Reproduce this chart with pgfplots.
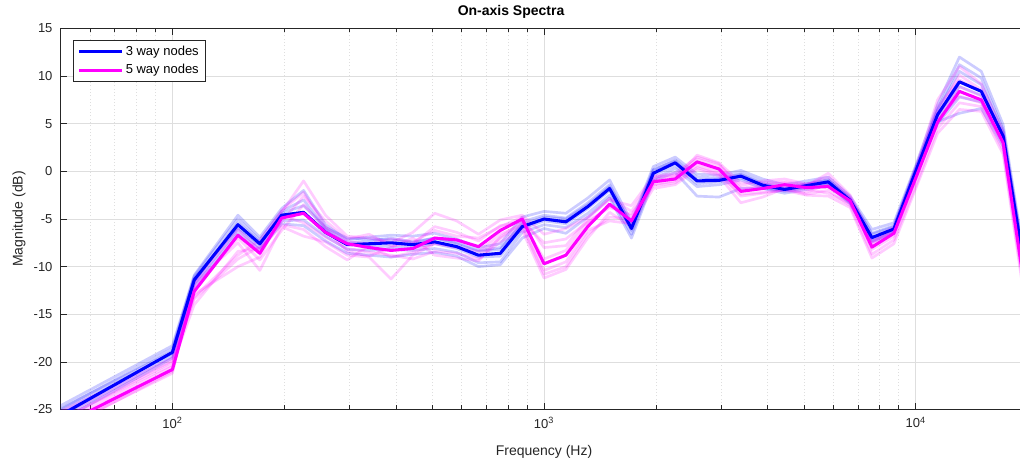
\documentclass[border=0pt]{standalone}
\usepackage{fontspec}
\setmainfont{Liberation Sans}
\usepackage{pgfplots}
\usepackage{pgfplotstable}
\pgfplotsset{compat=1.18}
\definecolor{axgray}{RGB}{38,38,38}
\definecolor{gridgray}{RGB}{222,222,222}
\definecolor{mainblue}{RGB}{0,0,255}
\definecolor{mainmag}{RGB}{255,0,255}

\pgfplotstableread{
f B b1 b2 b3 b4 b5 b6 M m1 m2 m3 m4 m5 m6 m7
50 -25.6 -24.6 -25.0 -25.3 -25.9 -26.2 -24.9 -26.7 -25.6 -26.0 -27.2 -26.4 -25.2 -27.0 -26.1
100 -19.0 -18.3 -18.6 -19.1 -19.4 -19.6 -18.9 -20.8 -19.9 -20.3 -21.0 -20.5 -19.6 -21.2 -20.0
114.5 -11.4 -10.9 -11.0 -11.8 -11.6 -12.1 -11.2 -12.6 -13.4 -14.0 -11.8 -12.9 -13.2 -11.6 -12.2
150.1 -5.6 -4.6 -5.0 -6.1 -5.4 -6.5 -5.9 -6.7 -9.2 -8.4 -7.5 -10.0 -8.8 -6.1 -7.0
171.9 -7.6 -6.9 -7.2 -8.0 -7.4 -8.2 -7.7 -8.6 -7.9 -8.1 -10.4 -9.0 -7.2 -8.3 -9.3
196.8 -4.6 -3.9 -4.2 -5.2 -4.8 -5.5 -4.4 -4.9 -4.3 -5.3 -5.8 -4.6 -4.1 -5.6 -6.2
225.4 -4.3 -2.0 -3.0 -5.1 -4.4 -5.7 -3.6 -4.4 -1.0 -2.6 -6.8 -5.4 -2.2 -6.1 -3.5
258.1 -6.4 -5.6 -6.0 -6.8 -6.2 -7.3 -5.9 -6.4 -4.6 -5.2 -7.4 -6.9 -5.8 -7.9 -6.0
295.5 -7.7 -7.2 -7.5 -8.2 -7.6 -8.6 -7.0 -7.6 -6.8 -7.1 -8.8 -8.1 -7.4 -9.3 -8.4
338.4 -7.6 -6.9 -7.3 -8.3 -7.8 -8.8 -7.1 -8.0 -7.0 -6.6 -9.0 -8.5 -7.6 -7.8 -8.9
387.5 -7.5 -6.7 -7.0 -8.2 -7.9 -9.0 -7.2 -8.3 -7.5 -7.8 -11.3 -8.8 -7.1 -9.0 -8.0
443.7 -7.7 -6.8 -7.4 -8.3 -8.0 -8.7 -7.5 -8.1 -6.4 -7.6 -8.8 -9.2 -7.4 -8.5 -7.0
508.1 -7.4 -6.5 -7.0 -8.1 -7.6 -8.5 -7.0 -7.0 -4.4 -5.8 -7.6 -8.4 -6.2 -7.5 -8.8
581.8 -7.9 -7.1 -7.6 -8.5 -8.1 -8.9 -7.5 -7.2 -5.2 -6.4 -8.0 -8.6 -6.8 -7.9 -9.1
666.2 -8.8 -8.0 -8.4 -9.6 -9.0 -10.0 -8.3 -7.9 -6.6 -7.3 -8.4 -9.2 -7.0 -8.8 -9.4
762.8 -8.6 -7.6 -8.2 -9.5 -8.9 -9.8 -8.0 -6.2 -5.1 -5.7 -6.6 -7.4 -5.8 -7.0 -6.9
873.5 -5.8 -4.8 -5.3 -6.4 -6.0 -7.0 -5.6 -5.0 -4.6 -5.3 -5.6 -6.2 -4.8 -5.8 -5.3
1000 -5.0 -4.2 -4.6 -5.6 -5.2 -6.0 -4.8 -9.7 -6.6 -7.5 -10.4 -11.2 -8.0 -10.8 -9.2
1145 -5.3 -4.4 -4.9 -5.9 -5.5 -6.5 -5.0 -8.8 -6.0 -7.1 -9.5 -10.3 -7.8 -10.0 -8.3
1311 -3.7 -2.8 -3.3 -4.4 -3.9 -4.8 -3.5 -5.8 -4.8 -5.3 -6.2 -7.0 -5.0 -6.6 -5.4
1501 -1.8 -0.9 -1.4 -2.5 -2.0 -2.8 -1.6 -3.45 -3.0 -3.8 -5.2 -4.3 -2.8 -4.8 -3.6
1719 -6.0 -5.3 -5.7 -6.6 -6.2 -7.0 -5.5 -5.2 -3.6 -4.5 -5.5 -5.8 -4.2 -5.0 -4.7
1968 -0.2 0.5 0.1 -0.8 -0.4 -1.0 0.2 -1.1 -0.5 -1.4 -1.8 -0.8 -0.6 -1.5 -1.0
2254 0.9 1.5 1.2 0.3 0.6 -0.1 1.1 -0.8 -0.2 -1.0 -1.4 -0.5 -0.4 -1.2 -0.7
2581 -1.0 -0.3 -0.6 -1.6 -1.3 -2.6 -0.9 1.0 1.5 0.6 0.2 1.3 0.9 0.4 1.7
2955 -0.95 -0.4 -0.7 -1.4 -1.1 -2.7 -0.8 0.25 0.8 -0.2 -0.5 0.6 0.1 -0.3 0.9
3384 -0.5 0.1 -0.2 -0.9 -0.7 -1.8 -0.3 -2.1 -1.8 -2.6 -3.3 -1.5 -2.0 -2.4 -1.2
3875 -1.45 -0.8 -1.1 -1.8 -1.6 -1.8 -1.3 -1.8 -1.4 -2.3 -2.7 -1.0 -1.6 -2.2 -1.2
4437 -1.9 -1.4 -1.7 -2.3 -2.1 -2.0 -1.8 -1.4 -1.2 -1.9 -1.8 -0.8 -1.6 -2.0 -1.1
5081 -1.5 -1.0 -1.3 -1.9 -1.7 -1.6 -1.3 -1.7 -1.5 -2.2 -2.4 -1.3 -1.9 -2.5 -1.4
5818 -1.1 -0.6 -0.9 -1.5 -1.3 -1.4 -0.9 -1.6 -0.2 -1.3 -2.0 -1.1 -2.3 -2.6 -0.6
6662 -3.05 -2.6 -2.9 -3.4 -3.2 -3.3 -2.8 -3.1 -2.5 -3.0 -3.6 -2.9 -3.4 -3.8 -2.7
7628 -6.95 -6.1 -6.6 -7.4 -7.1 -7.3 -6.5 -7.95 -7.0 -7.6 -8.7 -8.2 -7.5 -9.1 -7.3
8735 -6.05 -5.4 -5.8 -6.5 -6.2 -6.4 -5.7 -6.5 -5.9 -6.3 -7.2 -6.8 -6.1 -7.6 -6.0
10000 0.0 0.6 0.3 -0.5 -0.2 -0.3 0.4 -0.7 0.3 -0.4 -1.5 -0.9 -0.2 -1.8 0.1
11450 5.95 7.0 6.5 5.0 5.6 5.2 6.4 5.15 7.5 6.2 4.5 5.5 6.8 4.0 5.9
13111 9.4 12.0 11.2 7.8 8.9 6.1 10.5 8.4 11.0 10.1 7.2 7.9 9.6 6.5 8.9
15013 8.4 10.5 9.8 7.3 8.0 6.6 9.1 7.5 9.2 8.6 6.8 7.2 8.4 6.3 7.9
17190 3.7 4.9 4.4 3.0 3.5 2.6 4.1 3.0 4.2 3.6 2.2 2.8 3.8 1.8 3.3
19684 -10.5 -9.5 -10.0 -11.0 -10.6 -11.4 -9.9 -12.5 -11.0 -11.8 -13.2 -12.4 -11.5 -13.8 -12.0
}\spectra

\begin{document}
\begin{tikzpicture}
\begin{axis}[
  at={(0pt,0pt)}, anchor=south west,
  scale only axis, width=725.3pt, height=285.75pt,
  xmode=log, xmin=50, xmax=20000, ymin=-25, ymax=15,
  xtick={100,1000,10000},
  xticklabels={10\textsuperscript{2},10\textsuperscript{3},10\textsuperscript{4}},
  minor xtick={60,70,80,90,200,300,400,500,600,700,800,900,2000,3000,4000,5000,6000,7000,8000,9000,20000},
  ytick={-25,-20,...,15},
  xtick pos=both, ytick pos=both,
  xticklabel pos=lower, yticklabel pos=left,
  tick align=inside,
  major tick length=5pt, minor tick length=3pt,
  every tick/.style={axgray, line width=0.5pt},
  /pgf/number format/assume math mode=true,
  ticklabel style={font=\fontsize{9.75}{11}\selectfont, text=axgray},
  yticklabel style={xshift=-2.5pt},
  xticklabel style={yshift=-2pt},
  grid=major, xminorgrids=true,
  major grid style={gridgray, line width=0.5pt},
  minor grid style={gridgray, line width=0.5pt, dotted},
  axis line style={axgray, line width=0.5pt},
  xlabel={Frequency (Hz)}, ylabel={Magnitude (dB)},
  label style={font=\fontsize{10.5}{12}\selectfont, text=axgray},
  xlabel style={at={(axis description cs:0.5,-0.1115)}, anchor=center},
  ylabel style={at={(axis description cs:-0.0429,0.5)}, anchor=center},
  title={On-axis Spectra},
  title style={at={(axis description cs:0.4659,1.0223)}, anchor=center, font=\bfseries\fontsize{10.5}{12}\selectfont, text=black},
  legend style={at={(axis description cs:0,1)}, anchor=north west, xshift=9.4pt, yshift=-8.6pt,
    draw=axgray, fill=white, line width=0.5pt, font=\fontsize{9.75}{11}\selectfont,
    inner xsep=3pt, inner ysep=2pt, row sep=1.5pt, cells={anchor=west}},
  legend image code/.code={\draw[#1] (0pt,0pt) -- (32pt,0pt);},
  every axis plot/.append style={line join=round},
]
\pgfplotsinvokeforeach{b1,b2,b3,b4,b5,b6}{
  \addplot[mainblue, opacity=0.2, line width=2pt, forget plot] table[x=f, y=#1] {\spectra};
}
\pgfplotsinvokeforeach{m1,m2,m3,m4,m5,m6,m7}{
  \addplot[mainmag, opacity=0.2, line width=2pt, forget plot] table[x=f, y=#1] {\spectra};
}
\addplot[mainblue, line width=2.3pt] table[x=f, y=B] {\spectra};
\addlegendentry{3 way nodes}
\addplot[mainmag, line width=2.3pt] table[x=f, y=M] {\spectra};
\addlegendentry{5 way nodes}
\end{axis}
\pgfresetboundingbox
\useasboundingbox (-45.375pt,-42.375pt) rectangle (719.625pt,307.125pt);
\end{tikzpicture}
\end{document}
